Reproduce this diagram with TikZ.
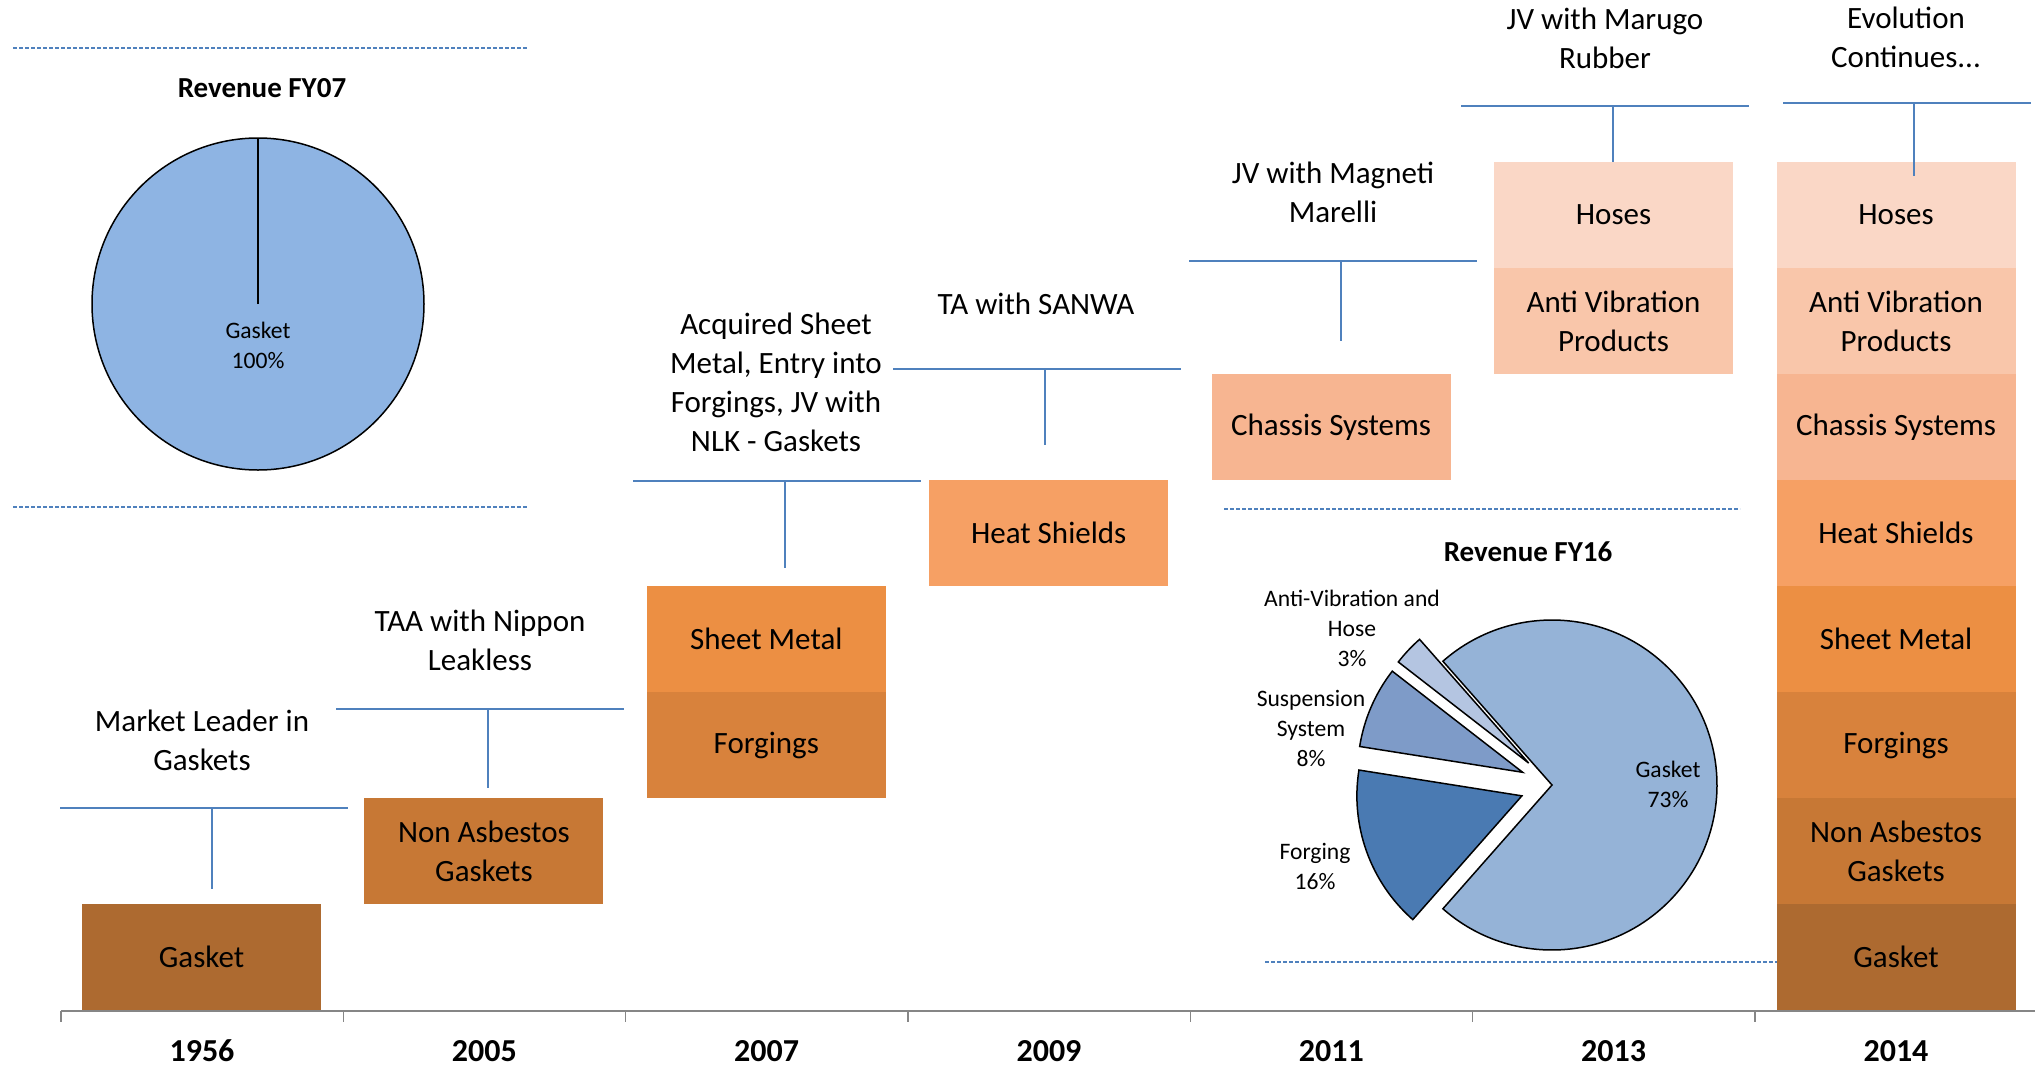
\documentclass[tikz,border=0pt]{standalone}
\usepackage{fontspec}
\setmainfont{Carlito}
\usetikzlibrary{positioning}
\definecolor{cGas}{RGB}{173,106,48}
\definecolor{cNon}{RGB}{199,120,53}
\definecolor{cForg}{RGB}{216,130,60}
\definecolor{cSheet}{RGB}{236,143,67}
\definecolor{cHeat}{RGB}{246,160,100}
\definecolor{cChas}{RGB}{247,181,145}
\definecolor{cAV}{RGB}{249,198,170}
\definecolor{cHose}{RGB}{250,215,198}
\definecolor{cBar}{RGB}{79,129,189}
\definecolor{cAxis}{RGB}{134,134,134}
\definecolor{cPie}{RGB}{142,180,227}
\definecolor{cGasPie}{RGB}{149,179,215}
\definecolor{cForgPie}{RGB}{74,122,178}
\definecolor{cSuspPie}{RGB}{126,155,200}
\definecolor{cAVPie}{RGB}{180,197,225}
\tikzset{
  box/.style={minimum width=119.5pt,minimum height=53pt,inner sep=0pt,outer sep=0pt,
    align=center,font=\fontsize{15.5}{19.5}\selectfont},
  event/.style={align=center,inner sep=0pt,font=\fontsize{15.5}{19.5}\selectfont},
  bracket/.style={draw=cBar,line width=1pt},
  sep/.style={draw=cBar,dash pattern=on 2pt off 1pt,line width=0.7pt},
  slice/.style={draw=black,line width=0.75pt},
  pielbl/.style={align=center,inner sep=0pt,font=\fontsize{11.8}{15}\selectfont},
  title/.style={inner sep=0pt,font=\bfseries\fontsize{14.5}{17}\selectfont},
  year/.style={inner sep=0pt,font=\bfseries\fontsize{16}{19}\selectfont}
}
\begin{document}
\begin{tikzpicture}[x=0.5pt,y=-0.5pt]
\useasboundingbox (0,0) rectangle (2035,1066);
% time axis
\coordinate (axL) at (61,1011);
\coordinate (axR) at (2035,1011);
\draw[cAxis,line width=1pt] (axL) -- (axR);
\foreach \yr [count=\i from 0] in {1956,2005,2007,2009,2011,2013,2014}{
  \draw[cAxis,line width=0.6pt] (61+282.33*\i,1011) -- ++(0,11);
  \node[year] (yr\yr) at (202+282.33*\i,1051) {\yr};
}
% product steps
\node[box,fill=cGas] (gas56) at (201.5,957) {Gasket};
\node[box,fill=cNon,above right=0pt and 21.7pt of gas56] (non05) {Non Asbestos\\Gaskets};
\node[box,fill=cForg,above right=0pt and 21.7pt of non05] (forg07) {Forgings};
\node[box,fill=cSheet,above=0pt of forg07] (sheet07) {Sheet Metal};
\node[box,fill=cHeat,above right=0pt and 21.7pt of sheet07] (heat09) {Heat Shields};
\node[box,fill=cChas,above right=0pt and 21.7pt of heat09] (chas11) {Chassis Systems};
\node[box,fill=cAV,above right=0pt and 21.7pt of chas11] (av13) {Anti Vibration\\Products};
\node[box,fill=cHose,above=0pt of av13] (hose13) {Hoses};
% 2014 stack
\node[box,fill=cGas] (gas14) at (1896,957) {Gasket};
\node[box,fill=cNon,above=0pt of gas14] (non14) {Non Asbestos\\Gaskets};
\node[box,fill=cForg,above=0pt of non14] (forg14) {Forgings};
\node[box,fill=cSheet,above=0pt of forg14] (sheet14) {Sheet Metal};
\node[box,fill=cHeat,above=0pt of sheet14] (heat14) {Heat Shields};
\node[box,fill=cChas,above=0pt of heat14] (chas14) {Chassis Systems};
\node[box,fill=cAV,above=0pt of chas14] (av14) {Anti Vibration\\Products};
\node[box,fill=cHose,above=0pt of av14] (hose14) {Hoses};
% milestones
\node[event] (ev56) at (202,740) {Market Leader in\\Gaskets};
\node[event] (ev05) at (480,640) {TAA with Nippon\\Leakless};
\node[event] (ev07) at (776,382) {Acquired Sheet\\Metal, Entry into\\Forgings, JV with\\NLK - Gaskets};
\node[event] (ev09) at (1036,304) {TA with SANWA};
\node[event] (ev11) at (1333,192) {JV with Magneti\\Marelli};
\node[event] (ev13) at (1605,38) {JV with Marugo\\Rubber};
\node[event] (ev14) at (1906,37) {Evolution\\Continues...};
\foreach \n/\x/\y/\l in {56/212/808/81,05/488/709/79,07/785/481/87,09/1045/369/76,11/1341/261/80,13/1613/106/56}{
  \coordinate (j\n) at (\x,\y);
  \draw[bracket] ([xshift=-76pt]j\n) -- ([xshift=68pt]j\n) (j\n) -- ++(0,\l);
}
\coordinate (j14) at (1914,103);
\draw[bracket] ([xshift=-65.5pt]j14) -- ([xshift=58.5pt]j14) (j14) -- ++(0,73);
% revenue FY07
\draw[sep] (13,48) -- (527,48);
\draw[sep] (13,507) -- (527,507);
\node[title] (t07) at (262,88) {Revenue FY07};
\coordinate (c07) at (258,304);
\draw[slice,fill=cPie] (c07) circle[radius=83pt];
\draw[slice] (c07) -- ++(90:83pt);
\node[pielbl] (l07) at (258,345) {Gasket\\100\%};
% revenue FY16
\draw[sep] (1224,509) -- (1740,509);
\draw[sep] (1265,962) -- (1777,962);
\node[title] (t16) at (1528,552) {Revenue FY16};
\coordinate (c16) at (1552,785);
\draw[slice,fill=cGasPie] (c16) -- ([shift={(-131.4:82.5pt)}]c16)
  arc[start angle=-131.4,end angle=131.4,radius=82.5pt] -- cycle;
\foreach \a/\b/\col/\nm in {131.4/142.2/cAVPie/av,142.2/171/cSuspPie/su,171/228.6/cForgPie/fo}{
  \coordinate (o\nm) at ([shift={({(\a+\b)/2}:16pt)}]c16);
  \draw[slice,fill=\col] (o\nm) -- ([shift={(\a:82.5pt)}]o\nm)
    arc[start angle=\a,end angle=\b,radius=82.5pt] -- cycle;
}
\node[pielbl] (lav) at (1352,628) {Anti-Vibration and\\Hose\\3\%};
\node[pielbl] (lsu) at (1311,728) {Suspension\\System\\8\%};
\node[pielbl] (lfo) at (1315,866) {Forging\\16\%};
\node[pielbl] (lga) at (1668,784) {Gasket\\73\%};
\end{tikzpicture}
\end{document}
